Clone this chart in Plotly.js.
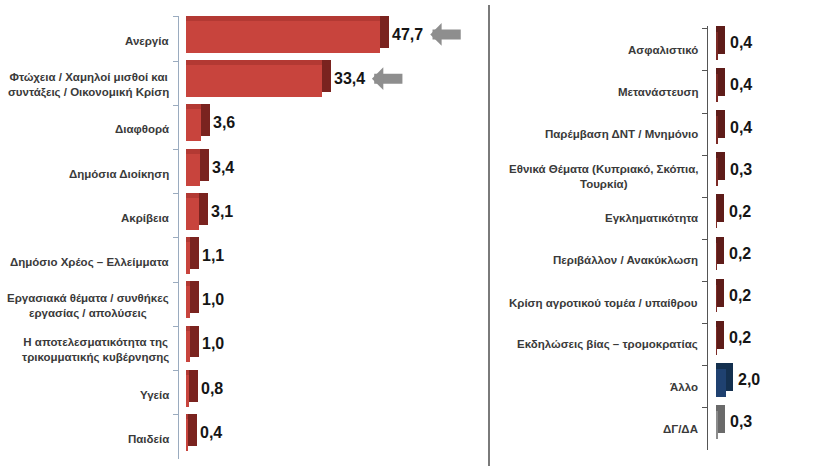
<!DOCTYPE html>
<html>
<head>
<meta charset="utf-8">
<script src="https://cdn.plot.ly/plotly-3.0.1.min.js"></script>
<style>html,body{margin:0;padding:0;background:#fff;}#chart{width:813px;height:466px;}</style>
</head>
<body>
<div id="chart"></div>
<script>
// ---- Data ----
const leftCategories = [
  'Ανεργία',
  'Φτώχεια / Χαμηλοί μισθοί και<br>συντάξεις / Οικονομική Κρίση',
  'Διαφθορά',
  'Δημόσια Διοίκηση',
  'Ακρίβεια',
  'Δημόσιο Χρέος – Ελλείμματα',
  'Εργασιακά θέματα / συνθήκες<br>εργασίας / απολύσεις',
  'Η αποτελεσματικότητα της<br>τρικομματικής κυβέρνησης',
  'Υγεία',
  'Παιδεία'
];
const leftValues = [47.7, 33.4, 3.6, 3.4, 3.1, 1.1, 1.0, 1.0, 0.8, 0.4];
const arrowedCategories = ['Ανεργία', 'Φτώχεια / Χαμηλοί μισθοί και<br>συντάξεις / Οικονομική Κρίση'];

const rightCategories = [
  'Ασφαλιστικό',
  'Μετανάστευση',
  'Παρέμβαση ΔΝΤ / Μνημόνιο',
  'Εθνικά Θέματα (Κυπριακό, Σκόπια,<br>Τουρκία)',
  'Εγκληματικότητα',
  'Περιβάλλον / Ανακύκλωση',
  'Κρίση αγροτικού τομέα / υπαίθρου',
  'Εκδηλώσεις βίας – τρομοκρατίας',
  'Άλλο',
  'ΔΓ/ΔΑ'
];
const rightValues = [0.4, 0.4, 0.4, 0.3, 0.2, 0.2, 0.2, 0.2, 2.0, 0.3];

// ---- Styles ----
const leftDepth = 2.2;   // x-units of 3D depth on left axis
const rightDepth = 1.4;
const leftFront = '#c8443d', leftTop = '#b33933', leftSide = '#7a231f';
function rightColors(cat) {
  if (cat === 'Άλλο') return {front: '#1f4170', side: '#14304f'};
  if (cat === 'ΔΓ/ΔΑ') return {front: '#8c8c8c', side: '#6a6a6a'};
  return {front: '#7c2a25', side: '#5e1c19'};
}
const fmt = v => v.toFixed(1).replace('.', ',');

const traces = [];
// Left 3D bars: back/side (0..v+depth), top (0..v), front
traces.push({type: 'bar', orientation: 'h', x: leftValues.map(v => v + leftDepth), y: leftCategories,
  base: 0, offset: -0.519, width: 0.722,
  marker: {color: leftSide}, xaxis: 'x', yaxis: 'y', hoverinfo: 'skip'});
traces.push({type: 'bar', orientation: 'h', x: leftValues, y: leftCategories,
  base: 0, offset: -0.519, width: 0.722,
  marker: {color: leftTop}, xaxis: 'x', yaxis: 'y', hoverinfo: 'skip'});
traces.push({type: 'bar', orientation: 'h', x: leftValues, y: leftCategories,
  offset: -0.406, width: 0.722,
  marker: {color: leftFront}, xaxis: 'x', yaxis: 'y'});

// Right 3D bars
traces.push({type: 'bar', orientation: 'h', x: rightValues.map(v => v + rightDepth), y: rightCategories,
  base: 0, offset: -0.566, width: 0.66,
  marker: {color: rightCategories.map(c => rightColors(c).side)}, xaxis: 'x2', yaxis: 'y2', hoverinfo: 'skip'});
traces.push({type: 'bar', orientation: 'h', x: rightValues, y: rightCategories,
  offset: -0.425, width: 0.66,
  marker: {color: rightCategories.map(c => rightColors(c).front)}, xaxis: 'x2', yaxis: 'y2'});

const annotations = [];
const labelFont = {family: 'Liberation Sans, Arial, sans-serif', size: 11.5, color: '#3a3a3a', weight: 'bold'};
const valueFont = {family: 'Liberation Sans, Arial, sans-serif', size: 16, color: '#151515', weight: 'bold'};
leftCategories.forEach((c, i) => {
  annotations.push({xref: 'x domain', yref: 'y', x: 0, y: c, xanchor: 'right', xshift: -8, yshift: -2,
    text: c, showarrow: false, align: 'center', font: labelFont});
  annotations.push({xref: 'x', yref: 'y', x: leftValues[i] + leftDepth, y: c, xanchor: 'left', xshift: 1, yshift: 4.5,
    text: fmt(leftValues[i]), showarrow: false, font: valueFont});
});
rightCategories.forEach((c, i) => {
  annotations.push({xref: 'x2 domain', yref: 'y2', x: 0, y: c, xanchor: 'right', xshift: -8, yshift: 0,
    text: c, showarrow: false, align: 'center', font: labelFont});
  annotations.push({xref: 'x2', yref: 'y2', x: rightValues[i] + rightDepth, y: c, xanchor: 'left', xshift: 3, yshift: 7,
    text: fmt(rightValues[i]), showarrow: false, font: valueFont});
});
arrowedCategories.forEach(c => {
  const v = leftValues[leftCategories.indexOf(c)];
  annotations.push({xref: 'x', yref: 'y', x: v + 12.2, y: c, yshift: 4.5, ax: 32, ay: 0,
    text: '', showarrow: true, arrowhead: 1, arrowsize: 0.38, arrowwidth: 10, arrowcolor: '#8e8e8e'});
});

const layout = {
  width: 813, height: 466,
  margin: {l: 0, r: 0, t: 0, b: 0},
  paper_bgcolor: '#ffffff', plot_bgcolor: 'rgba(0,0,0,0)',
  showlegend: false, barmode: 'overlay', bargap: 0,
  xaxis: {domain: [179/813, 480/813], range: [-1.7, 72.1], visible: false, fixedrange: true, anchor: 'y'},
  yaxis: {domain: [7/466, 450/466], type: 'category', autorange: 'reversed',
    showline: true, linecolor: '#9aabbf', linewidth: 1.5, ticks: 'outside', tickson: 'boundaries',
    ticklen: 5, tickcolor: '#9aabbf', showticklabels: false, showgrid: false, zeroline: false},
  xaxis2: {domain: [708/813, 1], range: [-1.6, 19.4], visible: false, fixedrange: true, anchor: 'y2'},
  yaxis2: {domain: [16/466, 440/466], type: 'category', autorange: 'reversed', anchor: 'x2',
    showline: true, linecolor: '#555555', linewidth: 1.5, ticks: 'outside', tickson: 'boundaries',
    ticklen: 5, tickcolor: '#555555', showticklabels: false, showgrid: false, zeroline: false},
  shapes: [{type: 'line', xref: 'paper', yref: 'paper', x0: 489/813, x1: 489/813, y0: 0, y1: 461/466,
    line: {color: '#7a7a7a', width: 2}}],
  annotations: annotations
};

Plotly.newPlot('chart', traces, layout, {displayModeBar: false, staticPlot: true});
</script>
</body>
</html>
